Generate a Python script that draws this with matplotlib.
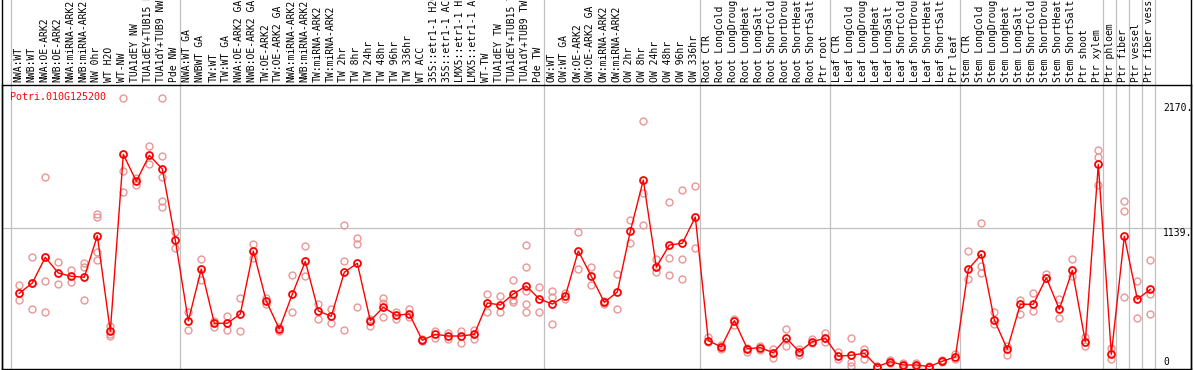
import matplotlib
matplotlib.use("Agg")
import matplotlib.pyplot as plt
from matplotlib.lines import Line2D

gene = "Potri.010G125200"

labels = [
    "NWA:WT", "NWB:WT", "NWA:OE-ARK2", "NWB:OE-ARK2", "NWA:miRNA-ARK2", "NWB:miRNA-ARK2",
    "NW 0hr", "WT H2O", "WT-NW", "TUA1dEY NW", "TUA1dEY+TUB15 NW", "TUA1dY+TUB9 NW", "Pde NW",
    "NWA:WT GA", "NWBWT GA", "TW:WT", "TW:WT GA", "NWA:OE-ARK2 GA", "NWB:OE-ARK2 GA",
    "TW:OE-ARK2", "TW:OE-ARK2 GA", "NWA:miRNA-ARK2", "NWB:miRNA-ARK2", "TW:miRNA-ARK2",
    "TW:miRNA-ARK2", "TW 2hr", "TW 8hr", "TW 24hr", "TW 48hr", "TW 96hr", "TW 336hr", "WT ACC",
    "35S::etr1-1 H2O", "35S::etr1-1 ACC", "LMX5::etr1-1 H2O", "LMX5::etr1-1 ACC", "WT-TW",
    "TUA1dEY TW", "TUA1dEY+TUB15 TW", "TUA1dY+TUB9 TW", "Pde TW",
    "OW:WT", "OW:WT GA", "OW:OE-ARK2", "OW:OE-ARK2 GA", "OW:miRNA-ARK2", "OW:miRNA-ARK2",
    "OW 2hr", "OW 8hr", "OW 24hr", "OW 48hr", "OW 96hr", "OW 336hr",
    "Root CTR", "Root LongCold", "Root LongDrought", "Root LongHeat", "Root LongSalt",
    "Root ShortCold", "Root ShortDrought", "Root ShortHeat", "Root ShortSalt", "Ptr root",
    "Leaf CTR", "Leaf LongCold", "Leaf LongDrought", "Leaf LongHeat", "Leaf LongSalt",
    "Leaf ShortCold", "Leaf ShortDrought", "Leaf ShortHeat", "Leaf ShortSalt", "Ptr leaf",
    "Stem CTR", "Stem LongCold", "Stem LongDrought", "Stem LongHeat", "Stem LongSalt",
    "Stem ShortCold", "Stem ShortDrought", "Stem ShortHeat", "Stem ShortSalt", "Ptr shoot",
    "Ptr xylem", "Ptr phloem", "Ptr fiber", "Ptr vessel", "Ptr fiber vessel",
]

means = [
    602, 687, 898, 769, 742, 734, 1076, 290, 1744, 1523, 1736, 1624, 1040,
    375, 802, 356, 356, 432, 950, 537, 309, 594, 865, 457, 413, 775, 849, 377,
    487, 422, 432, 216, 265, 251, 251, 265, 523, 506, 597, 662, 555,
    514, 580, 950, 742, 528, 613, 1112, 1533, 816, 999, 1013, 1229,
    213, 161, 377, 147, 155, 114, 233, 122, 205, 233,
    85, 93, 109, 0, 40, 13, 13, 0, 44, 79,
    800, 923, 383, 142, 512, 512, 730, 471, 791, 205,
    1662, 101, 1071, 553, 635,
]

replicates = [
    [670, 545], [901, 473, 687], [1555, 701, 449], [860, 676], [794, 693],
    [854, 821, 547], [1254, 1232, 939, 873], [336, 268, 251], [2205, 1607, 1432],
    [1552, 1492], [1813, 1665], [2205, 1731, 1560, 1363, 1309], [1108, 977],
    [449, 301], [882, 712], [377, 328], [416, 301], [566, 293], [1007, 895],
    [560, 515], [328, 295], [753, 446], [989, 742], [512, 389], [473, 356],
    [1161, 865, 298], [1057, 1005, 487], [336, 394], [561, 410, 525], [449, 391],
    [473, 405], [225, 208], [295, 237], [274, 227], [295, 191], [298, 227],
    [597, 446], [580, 446], [709, 547, 528], [997, 818, 621, 514, 446], [654, 446],
    [624, 569, 348], [602, 558], [1106, 800], [818, 670], [514, 541], [761, 471],
    [1205, 1013], [2016, 1424, 1161], [884, 780], [1350, 890, 750],
    [1449, 882, 717], [1486, 972],
    [241, 202], [147, 177], [394, 339], [120, 155], [172, 136], [142, 68],
    [309, 172], [142, 93], [227, 196], [279, 205],
    [122, 60], [233, 38, 7], [142, 60], [0, 6], [30, 50], [32, 5], [32, 5],
    [0, 3], [54, 34], [101, 60],
    [947, 722], [1178, 829, 767], [449, 348], [169, 95], [547, 430], [607, 457],
    [763, 726], [555, 397], [882, 744], [246, 172],
    [1780, 1720, 1490], [150, 60], [1358, 1279, 569], [703, 397], [873, 594, 432],
]

# gray separators drawn after these columns (0 = before the first one)
group_ends = [0, 13, 41, 53, 63, 73, 84, 85, 86, 87, 88]
tick_values = [2170, 1139]

W, H = 1194, 370
fig = plt.figure(figsize=(W / 100, H / 100), dpi=100)
plot_top, plot_bottom = 85, 369
ax = fig.add_axes([1.5 / W, (H - plot_bottom) / H, 1189 / W, (plot_bottom - plot_top) / H])

xs = list(range(1, len(means) + 1))
ax.set_xlim(-0.37, 91.09)
ax.set_ylim(-20, 2314)
ax.set_xticks([])
ax.set_yticks([])
for s in ax.spines.values():
    s.set_color("black")
    s.set_linewidth(1.0)

mono = "DejaVu Sans Mono"
ext = H / (plot_bottom - plot_top)  # axes fraction reaching top of figure

for g in group_ends:
    ax.axvline(g + 0.36, ymin=0, ymax=ext, color="#c0c0c0", lw=0.9, clip_on=False, zorder=1)
ax.axhline(1139, color="#c0c0c0", lw=0.9, zorder=1)

for x, reps in zip(xs, replicates):
    ax.plot([x] * len(reps), reps, "o", ms=5, mfc="none", mec="#eb9696", mew=1.0, zorder=2)

ax.plot(xs, means, "-", color="red", lw=1.0, zorder=3)
ax.plot(xs, means, "o", ms=5, mfc="none", mec="red", mew=1.3, zorder=4)

for v in tick_values:
    ax.text(89.0, v, f"{v}.", ha="left", va="top", fontsize=7, family=mono, color="black")
ax.text(89.0, 0, "0", ha="left", va="bottom", fontsize=7, family=mono, color="black")

ax.text(0.0072, 0.959, gene, transform=ax.transAxes, ha="left", va="center",
        fontsize=7.2, family=mono, color="red")

# column labels, cut at the top edge like the original
lab_y = 1 + 3 / (plot_bottom - plot_top)
trans = ax.get_xaxis_transform()
for x, lab in zip(xs, labels):
    ax.text(x - 0.08, lab_y, lab, transform=trans, rotation=90, ha="center", va="bottom",
            fontsize=7, family=mono, color="black", clip_on=False)

# outer frame lines through the label area
for fx in (1.5 / W, 1190.5 / W):
    fig.add_artist(Line2D([fx, fx], [0, 1], transform=fig.transFigure, color="black", lw=1.0))

fig.savefig("out.png", dpi=100, facecolor="white")
